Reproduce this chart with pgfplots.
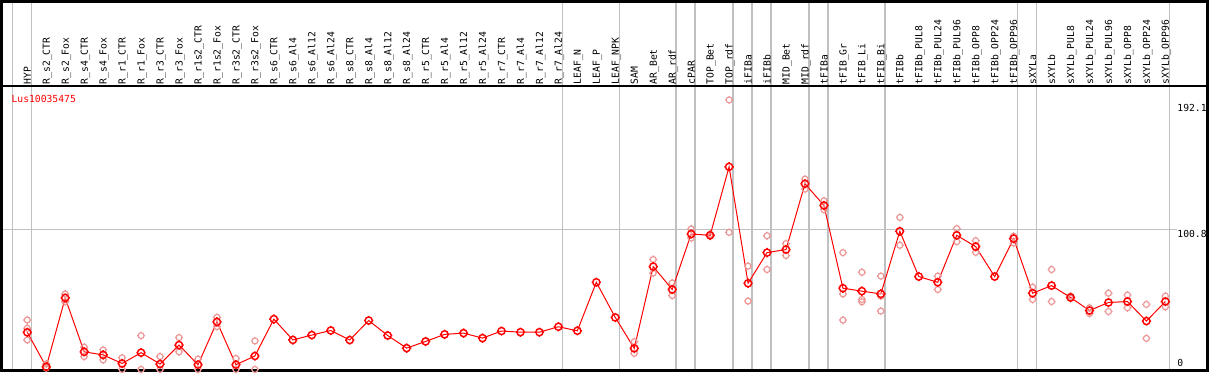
\documentclass[border=0pt]{standalone}
\usepackage{pgfplots}
\pgfplotsset{compat=1.18}
\usepackage{fontspec}
\newfontfamily\mono{DejaVu Sans Mono}
\definecolor{rep}{RGB}{236,150,150}
\definecolor{gridg}{RGB}{192,192,192}
\definecolor{mred}{RGB}{255,0,0}
\pgfdeclareplotmark{tc}{%
  \pgfpathcircle{\pgfpointorigin}{\pgfplotmarksize}%
  \pgfpathmoveto{\pgfpoint{\pgfplotmarksize}{0pt}}\pgfpathlineto{\pgfpoint{\pgfplotmarksize+0.8pt}{0pt}}%
  \pgfpathmoveto{\pgfpoint{-\pgfplotmarksize}{0pt}}\pgfpathlineto{\pgfpoint{-\pgfplotmarksize-0.8pt}{0pt}}%
  \pgfpathmoveto{\pgfpoint{0pt}{\pgfplotmarksize}}\pgfpathlineto{\pgfpoint{0pt}{\pgfplotmarksize+0.8pt}}%
  \pgfpathmoveto{\pgfpoint{0pt}{-\pgfplotmarksize}}\pgfpathlineto{\pgfpoint{0pt}{-\pgfplotmarksize-0.8pt}}%
  \pgfusepathqstroke}
\tikzset{lbl/.style={rotate=90, anchor=west, inner sep=0pt, font=\mono\fontsize{7.3}{8}\selectfont, text height=0.74em, text depth=0.2em}}
\newcommand\lab[2]{\node[lbl] at (axis cs:#1,205.2) {#2};}
\begin{document}
\begin{tikzpicture}
\begin{axis}[
  width=906.75pt, height=277.5pt, scale only axis,
  hide axis, clip=false,
  xmin=-1.3677, xmax=62.230, ymin=-1.080, ymax=265.30,
]
\path (rel axis cs:0,0) rectangle (rel axis cs:1,1);
\pgfplotsinvokeforeach{-0.79,0.21,28.21,31.21,34.21,35.21,37.21,38.21,39.21,41.21,42.21,45.21,52.21,53.21,60.21}{
  \draw[gridg, line width=1.1pt] (axis cs:#1,265.3) -- (axis cs:#1,-1.08);
}
\draw[gridg, line width=1.1pt] (axis cs:-1.3677,100.8) -- (axis cs:60.6,100.8);

% replicates
\addplot[only marks, mark=tc, mark size=2.25pt, rep, line width=0.9pt] table {
x y
0 35.4
0 29.4
0 21.0
1 3.7
1 0.6
2 54.1
2 48.6
3 15.7
3 9.0
4 13.8
4 6.6
5 8.1
5 -0.3
6 24.1
6 -0.3
7 9.0
7 -0.3
8 22.7
8 12.4
9 7.1
9 -0.3
10 37.3
10 30.6
11 7.6
11 -0.3
12 20.3
12 -0.3
32 19.7
32 11.3
33 79.0
33 69.3
34 62.1
34 53.0
35 101.0
35 94.5
36 97.2
36 95.8
37 194.2
37 98.6
38 74.2
38 49.0
39 96.2
39 71.8
40 90.5
40 81.9
41 137.0
41 129.8
42 121.4
42 115.0
43 84.0
43 54.2
43 35.3
44 69.8
44 50.2
44 48.5
45 67.0
45 52.6
45 41.8
46 109.4
46 89.3
48 67.0
48 57.4
49 101.3
49 91.9
50 92.6
50 84.2
52 95.8
52 90.9
53 59.0
53 50.2
54 71.8
54 48.7
55 52.6
55 51.0
56 44.2
56 40.1
57 54.7
57 41.5
58 53.3
58 44.2
59 46.6
59 22.1
60 52.6
60 44.9
};

% means
\addplot[mred, line width=0.75pt, mark=tc, mark size=2.7pt, mark options={line width=1.1pt, solid}] table {
x y
0 26.5
1 1.6
2 51.3
3 12.4
4 10.2
5 4.0
6 11.8
7 3.6
8 17.3
9 3.1
10 34.0
11 3.1
12 9.4
13 36.0
14 21.0
15 24.5
16 27.8
17 20.9
18 35.0
19 24.2
20 15.1
21 19.9
22 25.0
23 25.9
24 22.3
25 27.4
26 26.6
27 26.6
28 30.5
29 27.6
30 62.6
31 37.2
32 14.9
33 73.9
34 57.4
35 97.4
36 96.5
37 145.9
38 61.9
39 84.0
40 86.2
41 133.7
42 118.0
43 58.3
44 56.2
45 54.2
46 99.4
47 66.7
48 62.6
49 96.5
50 88.3
51 66.7
52 94.1
53 54.7
54 60.2
55 51.6
56 42.2
57 48.0
58 48.7
59 34.6
60 48.7
};

% labels
\lab{0}{HYP}
\lab{1}{R\_s2\_CTR}
\lab{2}{R\_s2\_Fox}
\lab{3}{R\_s4\_CTR}
\lab{4}{R\_s4\_Fox}
\lab{5}{R\_r1\_CTR}
\lab{6}{R\_r1\_Fox}
\lab{7}{R\_r3\_CTR}
\lab{8}{R\_r3\_Fox}
\lab{9}{R\_r1s2\_CTR}
\lab{10}{R\_r1s2\_Fox}
\lab{11}{R\_r3s2\_CTR}
\lab{12}{R\_r3s2\_Fox}
\lab{13}{R\_s6\_CTR}
\lab{14}{R\_s6\_Al4}
\lab{15}{R\_s6\_Al12}
\lab{16}{R\_s6\_Al24}
\lab{17}{R\_s8\_CTR}
\lab{18}{R\_s8\_Al4}
\lab{19}{R\_s8\_Al12}
\lab{20}{R\_s8\_Al24}
\lab{21}{R\_r5\_CTR}
\lab{22}{R\_r5\_Al4}
\lab{23}{R\_r5\_Al12}
\lab{24}{R\_r5\_Al24}
\lab{25}{R\_r7\_CTR}
\lab{26}{R\_r7\_Al4}
\lab{27}{R\_r7\_Al12}
\lab{28}{R\_r7\_Al24}
\lab{29}{LEAF\_N}
\lab{30}{LEAF\_P}
\lab{31}{LEAF\_NPK}
\lab{32}{SAM}
\lab{33}{AR\_Bet}
\lab{34}{AR\_rdf}
\lab{35}{cPAR}
\lab{36}{TOP\_Bet}
\lab{37}{TOP\_rdf}
\lab{38}{iFIBa}
\lab{39}{iFIBb}
\lab{40}{MID\_Bet}
\lab{41}{MID\_rdf}
\lab{42}{tFIBa}
\lab{43}{tFIB\_Gr}
\lab{44}{tFIB\_Li}
\lab{45}{tFIB\_Bi}
\lab{46}{tFIBb}
\lab{47}{tFIBb\_PUL8}
\lab{48}{tFIBb\_PUL24}
\lab{49}{tFIBb\_PUL96}
\lab{50}{tFIBb\_OPP8}
\lab{51}{tFIBb\_OPP24}
\lab{52}{tFIBb\_OPP96}
\lab{53}{sXYLa}
\lab{54}{sXYLb}
\lab{55}{sXYLb\_PUL8}
\lab{56}{sXYLb\_PUL24}
\lab{57}{sXYLb\_PUL96}
\lab{58}{sXYLb\_OPP8}
\lab{59}{sXYLb\_OPP24}
\lab{60}{sXYLb\_OPP96}

\node[anchor=west, inner sep=0pt, text=mred, font=\mono\fontsize{7.3}{8}\selectfont] at (axis cs:-0.842,195.2) {Lus10035475};
\node[anchor=north west, inner sep=0pt, font=\mono\fontsize{7.3}{8}\selectfont, yshift=-1pt] at (axis cs:60.62,192.1) {192.1};
\node[anchor=north west, inner sep=0pt, font=\mono\fontsize{7.3}{8}\selectfont, yshift=-0.5pt] at (axis cs:60.62,100.8) {100.8};
\node[anchor=south west, inner sep=0pt, font=\mono\fontsize{7.3}{8}\selectfont, yshift=1.6pt] at (axis cs:60.62,0) {0};

% frame and header line
\draw[black, line width=1.4pt] (axis cs:-1.3677,204.1) -- (axis cs:62.230,204.1);
\draw[black, line width=2pt] (rel axis cs:0,0) rectangle (rel axis cs:1,1);
\end{axis}
\end{tikzpicture}
\end{document}
